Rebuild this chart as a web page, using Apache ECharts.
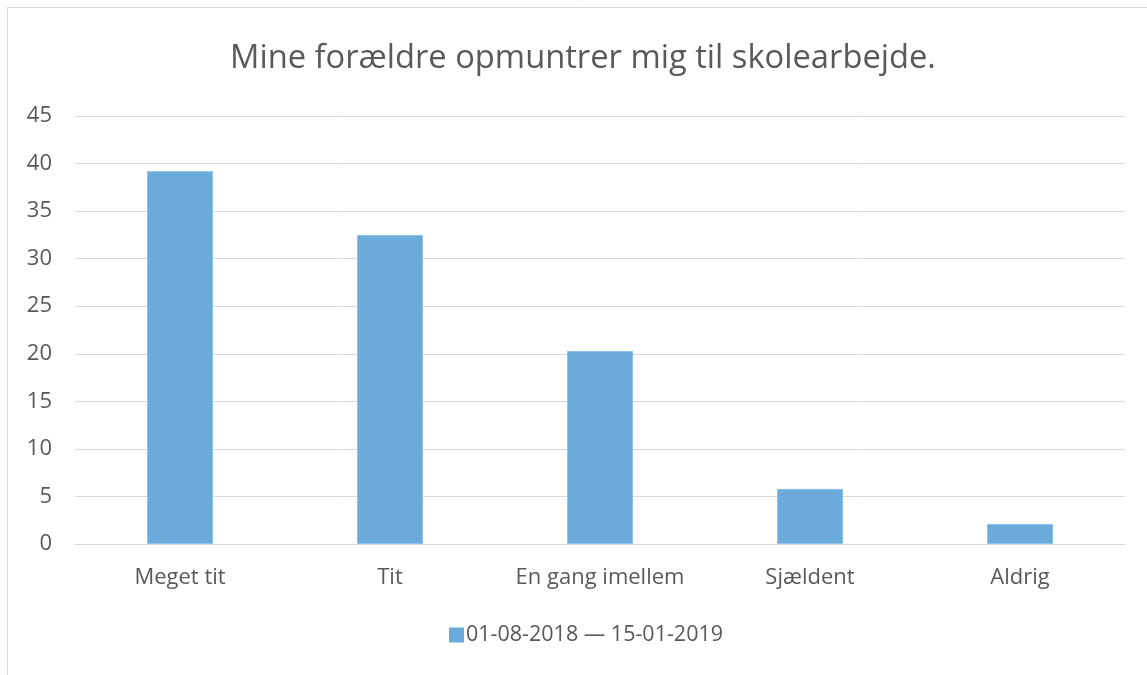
<!DOCTYPE html>
<html>
<head>
<meta charset="utf-8">
<script src="https://cdn.jsdelivr.net/npm/echarts@6/dist/echarts.min.js"></script>
<style>
  html, body { margin: 0; padding: 0; background: #fff; }
  #chart { width: 1147px; height: 675px; }
</style>
</head>
<body>
<div id="chart"></div>
<script>
const titleText = 'Mine forældre opmuntrer mig til skolearbejde.'
const categories = ['Meget tit', 'Tit', 'En gang imellem', 'Sjældent', 'Aldrig']
const seriesName = '01-08-2018 — 15-01-2019'
const values = [39.2, 32.5, 20.3, 5.8, 2.1]

const font = '"Open Sans", "DejaVu Sans", sans-serif'
const textColor = '#595959'

const chart = echarts.init(document.getElementById('chart'))
chart.setOption({
  animation: false,
  backgroundColor: '#fff',
  textStyle: { fontFamily: font },
  title: {
    text: titleText,
    left: 225,
    top: 37,
    textStyle: { fontFamily: font, fontSize: 32.7, fontWeight: 'normal', color: textColor }
  },
  graphic: [{
    type: 'rect',
    shape: { x: 7.5, y: 7.5, width: 1150, height: 690 },
    style: { fill: 'none', stroke: '#d9d9d9', lineWidth: 1 },
    silent: true
  }],
  legend: {
    top: 619,
    left: 444,
    itemWidth: 15,
    itemHeight: 15,
    itemGap: 10,
    icon: 'rect',
    itemStyle: { borderWidth: 0 },
    textStyle: { fontFamily: font, fontSize: 21.5, color: textColor, padding: [0, 0, 0, -3] },
    data: [seriesName]
  },
  grid: { left: 75, right: 22, top: 116, bottom: 131 },
  xAxis: {
    type: 'category',
    data: categories,
    axisLine: { lineStyle: { color: '#d9d9d9' } },
    axisTick: { show: false },
    axisLabel: { interval: 0, fontFamily: font, fontSize: 22, color: textColor, margin: 23 }
  },
  yAxis: {
    type: 'value',
    min: 0,
    max: 45,
    interval: 5,
    axisLine: { show: false },
    axisTick: { show: false },
    splitLine: { lineStyle: { color: '#d9d9d9', width: 1 } },
    axisLabel: { fontFamily: font, fontSize: 22, color: textColor, margin: 23 }
  },
  series: [{
    name: seriesName,
    type: 'bar',
    data: values,
    barWidth: 66,
    itemStyle: { color: '#6aabdb', borderColor: '#8fc0e6', borderWidth: 1 }
  }]
})
</script>
</body>
</html>
